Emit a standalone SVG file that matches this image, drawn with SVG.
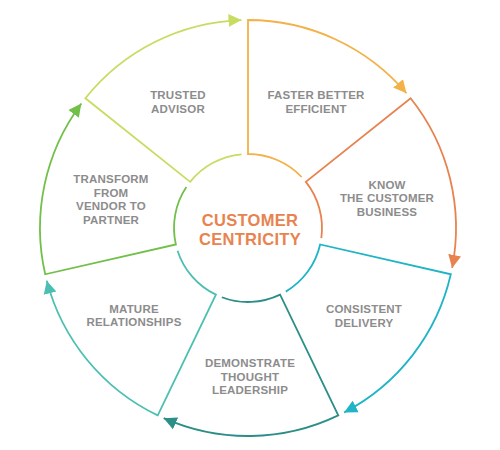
<svg xmlns="http://www.w3.org/2000/svg" width="500" height="450" viewBox="0 0 500 450">
<style>
.seg{fill:none;stroke-width:1.8;stroke-linejoin:miter}
.lbl{font-family:"Liberation Sans",Arial,sans-serif;font-weight:bold;font-size:11.5px;fill:#8c8c8c;text-anchor:middle;letter-spacing:0.2px}
.ctr{font-family:"Liberation Sans",Arial,sans-serif;font-weight:bold;font-size:16.5px;fill:#e8834f;text-anchor:middle;letter-spacing:0.3px}
</style>
<defs>
<marker id="a0" viewBox="0 0 14 14" refX="13" refY="7" markerWidth="14" markerHeight="14" markerUnits="userSpaceOnUse" orient="auto"><path d="M0,0.5 L13,7 L0,13.5 Z" fill="#f3b148"/></marker>
<marker id="a1" viewBox="0 0 14 14" refX="13" refY="7" markerWidth="14" markerHeight="14" markerUnits="userSpaceOnUse" orient="auto"><path d="M0,0.5 L13,7 L0,13.5 Z" fill="#e8834f"/></marker>
<marker id="a2" viewBox="0 0 14 14" refX="13" refY="7" markerWidth="14" markerHeight="14" markerUnits="userSpaceOnUse" orient="auto"><path d="M0,0.5 L13,7 L0,13.5 Z" fill="#1fb4c6"/></marker>
<marker id="a3" viewBox="0 0 14 14" refX="13" refY="7" markerWidth="14" markerHeight="14" markerUnits="userSpaceOnUse" orient="auto"><path d="M0,0.5 L13,7 L0,13.5 Z" fill="#2b8e88"/></marker>
<marker id="a4" viewBox="0 0 14 14" refX="13" refY="7" markerWidth="14" markerHeight="14" markerUnits="userSpaceOnUse" orient="auto"><path d="M0,0.5 L13,7 L0,13.5 Z" fill="#4cbfb2"/></marker>
<marker id="a5" viewBox="0 0 14 14" refX="13" refY="7" markerWidth="14" markerHeight="14" markerUnits="userSpaceOnUse" orient="auto"><path d="M0,0.5 L13,7 L0,13.5 Z" fill="#72c04a"/></marker>
<marker id="a6" viewBox="0 0 14 14" refX="13" refY="7" markerWidth="14" markerHeight="14" markerUnits="userSpaceOnUse" orient="auto"><path d="M0,0.5 L13,7 L0,13.5 Z" fill="#c8dc62"/></marker>
</defs>
<rect width="500" height="450" fill="#ffffff"/>
<g id="connectors">
<path class="seg" stroke="#f3b148" marker-end="url(#a0)" d="M301.62,177.00 A74,74 0 0 0 248,154 L248,20 A208,208 0 0 1 406.47,93.27"/>
<path class="seg" stroke="#e8834f" marker-end="url(#a1)" d="M321.31,238.12 A74,74 0 0 0 305.86,181.86 L410.62,98.31 A208,208 0 0 1 452.14,267.89"/>
<path class="seg" stroke="#1fb4c6" marker-end="url(#a2)" d="M285.80,291.62 A74,74 0 0 0 320.14,244.47 L450.79,274.28 A208,208 0 0 1 344.09,412.48"/>
<path class="seg" stroke="#2b8e88" marker-end="url(#a3)" d="M221.83,297.22 A74,74 0 0 0 280.11,294.67 L338.25,415.40 A208,208 0 0 1 163.68,418.15"/>
<path class="seg" stroke="#4cbfb2" marker-end="url(#a4)" d="M177.56,250.69 A74,74 0 0 0 215.89,294.67 L157.75,415.40 A208,208 0 0 1 46.76,280.63"/>
<path class="seg" stroke="#72c04a" marker-end="url(#a5)" d="M186.34,187.08 A74,74 0 0 0 175.86,244.47 L45.21,274.28 A208,208 0 0 1 81.38,103.48"/>
<path class="seg" stroke="#c8dc62" marker-end="url(#a6)" d="M241.55,154.28 A74,74 0 0 0 190.14,181.86 L85.38,98.31 A208,208 0 0 1 241.47,20.10"/>
</g>
<g id="center">
<text class="ctr" x="250" y="226">CUSTOMER</text>
<text class="ctr" x="250" y="245">CENTRICITY</text>
</g>
<g id="faster">
<text class="lbl" x="316" y="99">FASTER BETTER</text>
<text class="lbl" x="316" y="112.5">EFFICIENT</text>
</g>
<g id="know">
<text class="lbl" x="387" y="188.5">KNOW</text>
<text class="lbl" x="387" y="202">THE CUSTOMER</text>
<text class="lbl" x="387" y="215.5">BUSINESS</text>
</g>
<g id="consistent">
<text class="lbl" x="364" y="313">CONSISTENT</text>
<text class="lbl" x="364" y="326.5">DELIVERY</text>
</g>
<g id="demonstrate">
<text class="lbl" x="250" y="367">DEMONSTRATE</text>
<text class="lbl" x="250" y="380.5">THOUGHT</text>
<text class="lbl" x="250" y="394">LEADERSHIP</text>
</g>
<g id="mature">
<text class="lbl" x="134" y="312.5">MATURE</text>
<text class="lbl" x="134" y="326">RELATIONSHIPS</text>
</g>
<g id="transform">
<text class="lbl" x="111" y="183">TRANSFORM</text>
<text class="lbl" x="111" y="196.5">FROM</text>
<text class="lbl" x="111" y="210">VENDOR TO</text>
<text class="lbl" x="111" y="223.5">PARTNER</text>
</g>
<g id="trusted">
<text class="lbl" x="178" y="99">TRUSTED</text>
<text class="lbl" x="178" y="112.5">ADVISOR</text>
</g>
</svg>
